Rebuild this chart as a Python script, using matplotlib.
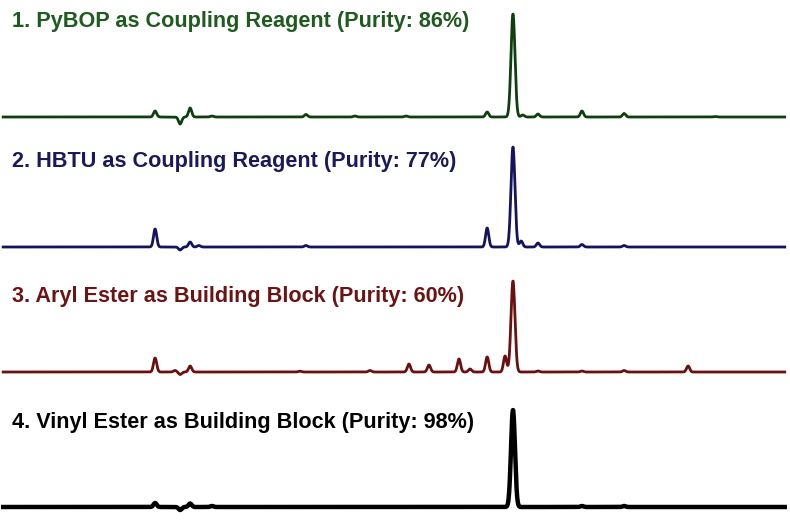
import numpy as np
import matplotlib
matplotlib.use('Agg')
import matplotlib.pyplot as plt

# retention time (min) and peak height (signal units)
rt_pybop = [5.89, 6.84, 7.22, 8.05, 11.62, 13.48, 15.42, 18.50, 19.48, 19.85, 20.43, 22.10, 23.70, 27.15]
h_pybop = [6, -7, 9, 1, 2.5, 1, 1, 5, 103, 2, 3, 6, 3.5, 0.5]

rt_hbtu = [5.89, 6.84, 7.22, 7.55, 11.62, 18.50, 19.48, 19.79, 20.43, 22.10, 23.70]
h_hbtu = [18, -3, 5, 1.5, 1.5, 19, 100, 6, 4, 2.5, 1.5]

rt_aryl = [5.89, 6.65, 6.84, 7.22, 11.39, 14.05, 15.53, 16.29, 17.43, 17.85, 18.50, 19.18, 19.48, 20.43, 22.10, 23.70, 26.13]
h_aryl = [14, 1.5, -2.5, 6, 0.8, 1.5, 8, 7, 13, 3, 15, 16, 91, 1, 1, 1.5, 6]

rt_vinyl = [5.89, 6.84, 7.22, 8.05, 19.48, 22.10, 23.70]
h_vinyl = [4, -3, 3.5, 1, 97, 1, 1]

titles = ['1. PyBOP as Coupling Reagent (Purity: 86%)',
          '2. HBTU as Coupling Reagent (Purity: 77%)',
          '3. Aryl Ester as Building Block (Purity: 60%)',
          '4. Vinyl Ester as Building Block (Purity: 98%)']
line_colors = ['#0f3f0f', '#14145e', '#6a1010', '#000000']
text_colors = ['#1f5a1f', '#1a1a5a', '#6a1414', '#000000']

traces = [(rt_pybop, h_pybop), (rt_hbtu, h_hbtu), (rt_aryl, h_aryl), (rt_vinyl, h_vinyl)]
baselines = [404, 274, 149, 14]  # vertical offset of each trace
title_y = [27, 167, 302, 428]    # title baseline, px from top
widths = [2.0, 2.0, 2.0, 3.2]

t = np.linspace(0.12, 29.8, 4000)

def chromatogram(rts, hs):
    sig = np.zeros_like(t)
    for r, h in zip(rts, hs):
        w = 0.075 if abs(h) > 50 else 0.06
        sig += h * np.exp(-0.5 * ((t - r) / w) ** 2)
    return sig

fig = plt.figure(figsize=(7.9, 5.21), dpi=100)
ax = fig.add_axes([0, 0, 1, 1])
ax.set_xlim(0, 30)
ax.set_ylim(0, 521)
ax.axis('off')

for (rts, hs), b, c, lw in zip(traces, baselines, line_colors, widths):
    ax.plot(t, b + chromatogram(rts, hs), color=c, lw=lw, solid_joinstyle='round')

for txt, y, c in zip(titles, title_y, text_colors):
    fig.text(12 / 790, 1 - y / 521, txt, color=c, fontsize=15.6, fontweight='bold',
             family=['Liberation Sans', 'DejaVu Sans'], va='baseline', ha='left')

fig.savefig('out.png', dpi=100, facecolor='white')
